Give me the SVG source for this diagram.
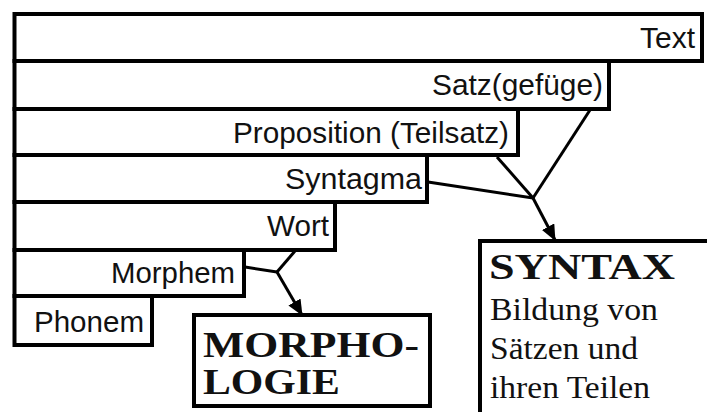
<svg xmlns="http://www.w3.org/2000/svg" width="707" height="412" viewBox="0 0 707 412">
<style>
.box{fill:none;stroke:#000;stroke-width:4}
.lbl{font-family:"Liberation Sans",Arial,sans-serif;font-size:29px;fill:#111;text-anchor:end}
.ser{font-family:"Liberation Serif","Times New Roman",serif;fill:#111}
.cap{font-weight:bold;font-size:35px}
.body{font-size:31px}
.con{stroke:#000;stroke-width:3;fill:none}
</style>
<defs>
<marker id="ah" markerUnits="userSpaceOnUse" markerWidth="16" markerHeight="14" refX="15" refY="7" orient="auto">
<path d="M0,0 L16,7 L0,14 Z" fill="#000"/>
</marker>
</defs>
<rect width="707" height="412" fill="#fff"/>
<g id="text">
<rect class="box" x="14.5" y="14" width="687.5" height="47"/>
<text class="lbl" x="695" y="48" textLength="55" lengthAdjust="spacingAndGlyphs">Text</text>
</g>
<g id="satz">
<rect class="box" x="14.5" y="61" width="594.5" height="48"/>
<text class="lbl" x="603" y="95" textLength="171" lengthAdjust="spacingAndGlyphs">Satz(gefüge)</text>
</g>
<g id="proposition">
<rect class="box" x="14.5" y="109" width="503.5" height="46"/>
<text class="lbl" x="509" y="143" font-size="31" textLength="276" lengthAdjust="spacingAndGlyphs">Proposition (Teilsatz)</text>
</g>
<g id="syntagma">
<rect class="box" x="14.5" y="155" width="412.5" height="47"/>
<text class="lbl" x="422" y="189" textLength="137" lengthAdjust="spacingAndGlyphs">Syntagma</text>
</g>
<g id="wort">
<rect class="box" x="14.5" y="202" width="320.5" height="48"/>
<text class="lbl" x="329" y="236" textLength="62" lengthAdjust="spacingAndGlyphs">Wort</text>
</g>
<g id="morphem">
<rect class="box" x="14.5" y="250" width="229.5" height="46"/>
<text class="lbl" x="235" y="283" textLength="124" lengthAdjust="spacingAndGlyphs">Morphem</text>
</g>
<g id="phonem">
<rect class="box" x="14.5" y="296" width="137.5" height="49"/>
<text class="lbl" x="144" y="332" textLength="110" lengthAdjust="spacingAndGlyphs">Phonem</text>
</g>
<g id="morphologie">
<rect class="box" x="194" y="315" width="236" height="91"/>
<text class="ser cap" x="203" y="357" textLength="216" lengthAdjust="spacingAndGlyphs">MORPHO-</text>
<text class="ser cap" x="203" y="394" textLength="137" lengthAdjust="spacingAndGlyphs">LOGIE</text>
</g>
<g id="syntax">
<rect class="box" x="480" y="241" width="260" height="200"/>
<text class="ser cap" x="489" y="279" font-size="34" textLength="186" lengthAdjust="spacingAndGlyphs">SYNTAX</text>
<text class="ser body" x="490" y="320" textLength="168" lengthAdjust="spacingAndGlyphs">Bildung von</text>
<text class="ser body" x="490" y="359" textLength="148" lengthAdjust="spacingAndGlyphs">Sätzen und</text>
<text class="ser body" x="490" y="398" textLength="160" lengthAdjust="spacingAndGlyphs">ihren Teilen</text>
</g>
<g id="connectors">
<line class="con" x1="590" y1="110" x2="533" y2="198"/>
<line class="con" x1="497" y1="157" x2="533" y2="198"/>
<line class="con" x1="428" y1="182" x2="533" y2="198"/>
<line class="con" x1="533" y1="198" x2="555" y2="240" marker-end="url(#ah)"/>
<line class="con" x1="245" y1="267" x2="277" y2="272"/>
<line class="con" x1="295" y1="251" x2="277" y2="272"/>
<line class="con" x1="277" y1="272" x2="302" y2="315" marker-end="url(#ah)"/>
</g>
</svg>
